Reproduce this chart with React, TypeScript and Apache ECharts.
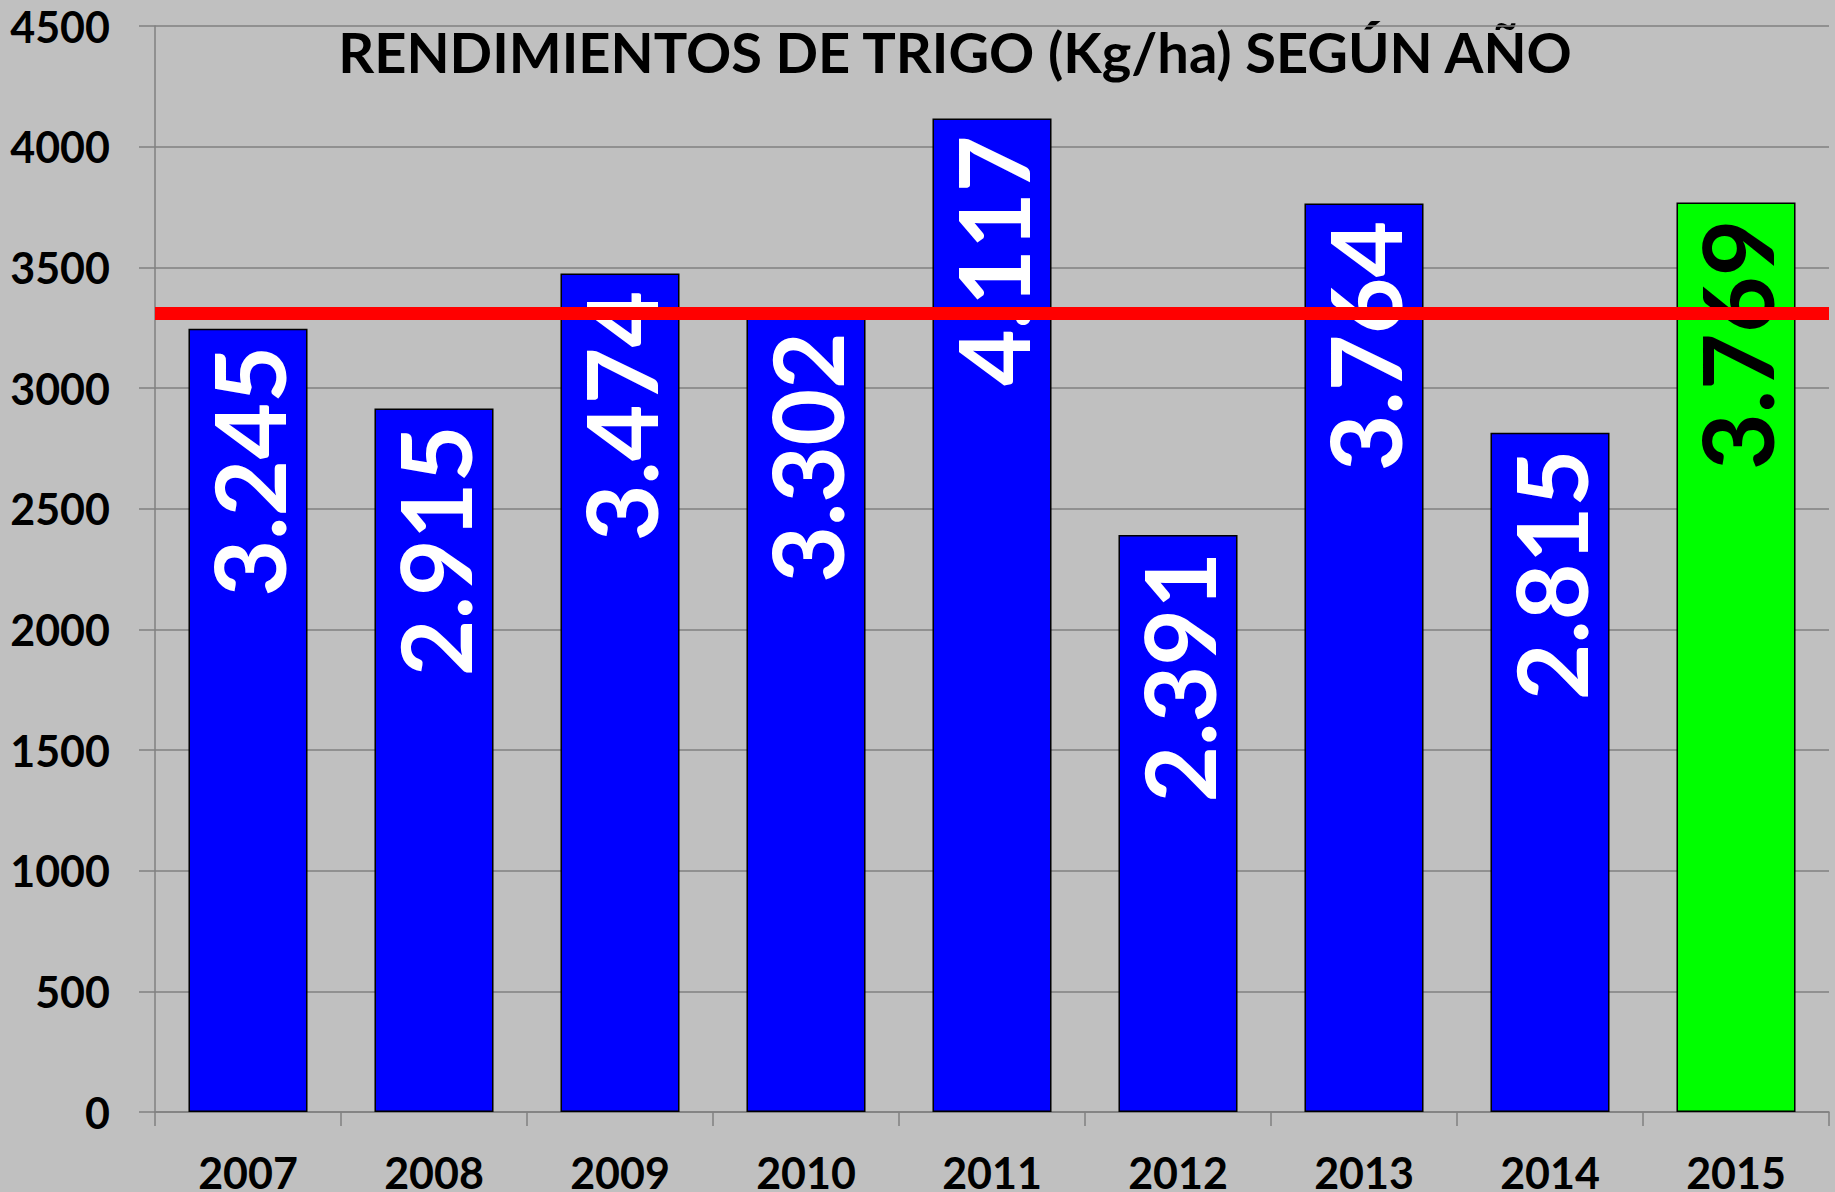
import React, { useEffect, useRef } from "react";
import * as echarts from "echarts";

const categories = ["2007", "2008", "2009", "2010", "2011", "2012", "2013", "2014", "2015"];
const values = [3245, 2915, 3474, 3302, 4117, 2391, 3764, 2815, 3769];
const yTicks = { min: 0, max: 4500, interval: 500 };
const titleText = "RENDIMIENTOS DE TRIGO (Kg/ha) SEGÚN AÑO";
const highlightYear = "2015";

const FONT = "Lato";
const fmt = (v: number) => String(v).replace(/\B(?=(\d{3})+(?!\d))/g, ".");

export default function App() {
  const ref = useRef<HTMLDivElement>(null);
  useEffect(() => {
    if (!ref.current) return;
    const chart = echarts.init(ref.current, null, { renderer: "svg" });
    const barData = values.map((v, i) => {
      const hi = categories[i] === highlightYear;
      return {
        value: v,
        itemStyle: { color: hi ? "#00FF00" : "#0000FF" },
        label: { color: hi ? "#000000" : "#FFFFFF" },
      };
    });
    chart.setOption({
      animation: false,
      backgroundColor: "#C0C0C0",
      grid: {
        left: 155,
        right: 6,
        top: 26,
        bottom: 80,
        containLabel: false,
        outerBoundsMode: "none",
      },
      graphic: [
        {
          type: "text",
          x: 955,
          y: 23,
          style: {
            text: titleText,
            fill: "#000000",
            fontFamily: FONT,
            fontWeight: "bold",
            fontSize: 56,
            align: "center",
            verticalAlign: "top",
          },
        },
      ],
      xAxis: {
        type: "category",
        data: categories,
        axisLine: { show: true, lineStyle: { color: "#808080", width: 1.5 } },
        axisTick: { show: true, length: 14, lineStyle: { color: "#808080", width: 1.5 } },
        axisLabel: {
          margin: 39,
          color: "#000000",
          fontFamily: FONT,
          fontWeight: "bold",
          fontSize: 43,
        },
        splitLine: { show: false },
      },
      yAxis: {
        type: "value",
        min: yTicks.min,
        max: yTicks.max,
        interval: yTicks.interval,
        axisLine: { show: true, lineStyle: { color: "#808080", width: 1.5 } },
        axisTick: { show: true, length: 16, lineStyle: { color: "#808080", width: 1.5 } },
        axisLabel: {
          margin: 45,
          color: "#000000",
          fontFamily: FONT,
          fontWeight: "bold",
          fontSize: 43,
          formatter: (v: number) => String(v),
        },
        splitLine: { show: true, lineStyle: { color: "#808080", width: 1.5 } },
      },
      series: [
        {
          type: "bar",
          data: barData,
          barCategoryGap: "36%",
          itemStyle: { borderColor: "#000000", borderWidth: 1.5 },
          label: {
            show: true,
            position: "insideTop",
            rotate: 90,
            align: "right",
            verticalAlign: "middle",
            distance: 17,
            fontFamily: FONT,
            fontWeight: "bold",
            fontSize: 98,
            formatter: (p: any) => fmt(p.value),
          },
          z: 2,
        },
        {
          type: "line",
          data: values,
          showSymbol: false,
          symbol: "none",
          silent: true,
          lineStyle: { opacity: 0, width: 0 },
          z: 5,
          markLine: {
            silent: true,
            symbol: ["none", "none"],
            label: { show: false },
            lineStyle: { color: "#FF0000", width: 13, type: "solid" },
            data: [{ type: "average" }],
          },
        },
      ],
    });
    return () => chart.dispose();
  }, []);
  return (
    <div
      ref={ref}
      style={{ position: "fixed", left: 0, top: 0, width: 1835, height: 1192 }}
    />
  );
}
